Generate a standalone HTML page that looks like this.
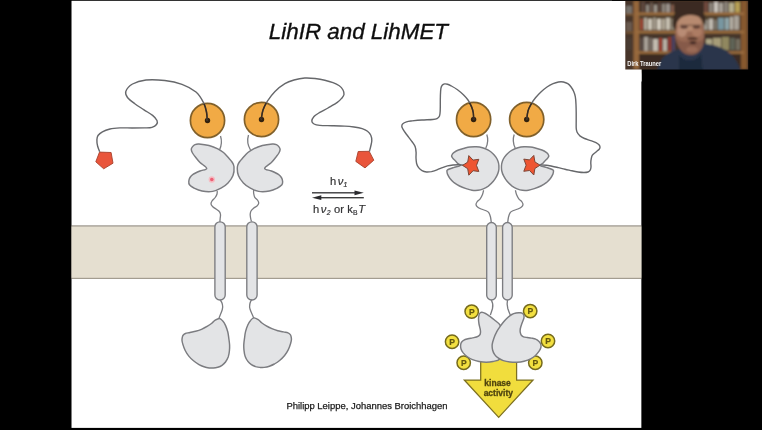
<!DOCTYPE html>
<html lang="en">
<head>
<meta charset="utf-8">
<title>LihIR and LihMET</title>
<style>
html,body{margin:0;padding:0;background:#000;}
body{width:762px;height:430px;overflow:hidden;position:relative;font-family:"Liberation Sans",sans-serif;}
svg{position:absolute;left:0;top:0;}
svg text{font-family:"Liberation Sans",sans-serif;}
</style>
</head>
<body>
<svg width="762" height="430" viewBox="0 0 762 430">
<defs>
<filter id="soft" x="-2%" y="-2%" width="104%" height="104%"><feGaussianBlur stdDeviation="0.55"/></filter>
<filter id="wb" x="-5%" y="-5%" width="110%" height="110%"><feGaussianBlur stdDeviation="1.0"/></filter>
<clipPath id="c1"><circle cx="207.5" cy="120.5" r="17.1"/></clipPath>
<clipPath id="c2"><circle cx="261.5" cy="119.5" r="17.1"/></clipPath>
<clipPath id="c3"><circle cx="473.6" cy="119.5" r="17.1"/></clipPath>
<clipPath id="c4"><circle cx="526.7" cy="119.5" r="17.1"/></clipPath>
<filter id="tb"><feGaussianBlur stdDeviation="0.25"/></filter>
</defs>
<rect x="71.3" y="0.8" width="570.3" height="427.1" fill="#fff"/>
<g filter="url(#soft)">
<rect x="67" y="226" width="579" height="52.5" fill="#e5dfd0"/>
<rect x="67" y="225.3" width="579" height="1.2" fill="#9a948a"/>
<rect x="67" y="277.8" width="579" height="1.2" fill="#a39d90"/>
<polygon points="99.5,152.1 111.1,152.5 113,163.2 103.7,168.8 95.8,161.8" fill="#e9553a" stroke="#a8412d" stroke-width="0.9" stroke-linejoin="round"/>
<polygon points="358.2,151.5 369.2,151.3 373.8,160.2 365,167.9 355.8,161.4" fill="#e9553a" stroke="#a8412d" stroke-width="0.9" stroke-linejoin="round"/>
<path d="M220.5 136C221.8 140 221.8 145 219.5 150" fill="none" stroke="#7b7c80" stroke-width="1.3"/>
<path d="M248.5 135C247 140 247.5 145 250.5 150" fill="none" stroke="#7b7c80" stroke-width="1.3"/>
<path d="M192.2 147.1C192.8 146.3 193.9 145.1 195.0 144.6C196.1 144.1 196.7 143.8 199.0 144.0C201.3 144.2 205.9 144.7 209.0 145.5C212.1 146.3 215.4 147.6 217.8 148.8C220.2 150.0 221.8 151.1 223.5 152.5C225.2 153.9 226.6 155.7 228.0 157.3C229.4 158.9 231.0 160.4 232.0 162.0C233.0 163.6 233.8 164.4 234.0 166.7C234.2 168.9 234.0 172.8 233.0 175.5C232.0 178.2 230.0 180.8 228.0 182.9C226.0 185.0 223.6 186.8 221.0 188.2C218.4 189.6 215.9 190.9 212.7 191.4C209.5 191.9 205.1 191.6 202.0 191.0C198.9 190.4 196.0 189.0 193.9 188.0C191.8 187.0 190.3 185.9 189.5 184.8C188.7 183.7 188.7 182.4 188.8 181.2C188.9 180.0 189.3 178.6 190.0 177.5C190.7 176.4 191.3 175.5 193.0 174.4C194.7 173.3 197.7 172.0 200.0 171.0C202.3 170.0 206.7 169.8 206.7 168.4C206.7 167.0 201.8 164.3 200.0 162.5C198.2 160.7 196.8 158.9 195.6 157.3C194.3 155.7 193.2 154.3 192.5 153.0C191.8 151.7 191.4 150.6 191.3 149.6C191.2 148.6 191.6 147.9 192.2 147.1Z" fill="#e3e4e6" stroke="#7b7c80" stroke-width="1.45"/>
<path d="M279.2 147.1C278.6 146.3 277.5 145.1 276.4 144.6C275.3 144.1 274.7 143.8 272.4 144.0C270.1 144.2 265.5 144.7 262.4 145.5C259.3 146.3 256.0 147.6 253.6 148.8C251.2 150.0 249.6 151.1 247.9 152.5C246.2 153.9 244.8 155.7 243.4 157.3C242.0 158.9 240.4 160.4 239.4 162.0C238.4 163.6 237.6 164.4 237.4 166.7C237.2 168.9 237.4 172.8 238.4 175.5C239.4 178.2 241.4 180.8 243.4 182.9C245.4 185.0 247.8 186.8 250.4 188.2C252.9 189.6 255.5 190.9 258.7 191.4C261.9 191.9 266.3 191.6 269.4 191.0C272.5 190.4 275.4 189.0 277.5 188.0C279.6 187.0 281.0 185.9 281.9 184.8C282.8 183.7 282.7 182.4 282.6 181.2C282.5 180.0 282.1 178.6 281.4 177.5C280.7 176.4 280.1 175.5 278.4 174.4C276.7 173.3 273.7 172.0 271.4 171.0C269.1 170.0 264.7 169.8 264.7 168.4C264.7 167.0 269.5 164.3 271.4 162.5C273.2 160.7 274.5 158.9 275.8 157.3C277.0 155.7 278.2 154.3 278.9 153.0C279.6 151.7 280.0 150.6 280.1 149.6C280.1 148.6 279.8 147.9 279.2 147.1Z" fill="#e3e4e6" stroke="#7b7c80" stroke-width="1.45"/>
<circle cx="211.8" cy="179.5" r="3.2" fill="#f5bcc3"/><circle cx="211.8" cy="179.5" r="1.8" fill="#ec5f74"/>
<circle cx="207.5" cy="120.5" r="17.1" fill="#f1aa44" stroke="#80602c" stroke-width="1.7"/>
<circle cx="207.5" cy="120.5" r="2.7" fill="#33200f"/>
<circle cx="261.5" cy="119.5" r="17.1" fill="#f1aa44" stroke="#80602c" stroke-width="1.7"/>
<circle cx="261.5" cy="119.5" r="2.7" fill="#33200f"/>
<path d="M207.2 120.6C207.1 119.2 207.1 115.0 206.5 112.0C205.9 109.0 205.2 105.7 203.4 102.4C201.7 99.1 199.6 95.0 196.0 92.0C192.4 89.0 187.2 86.2 182.0 84.3C176.8 82.4 170.8 81.2 164.8 80.5C158.8 79.8 151.4 79.4 146.0 80.0C140.6 80.6 135.9 82.1 132.5 84.0C129.1 85.9 126.6 89.2 125.8 91.5C125.0 93.8 126.0 95.5 127.5 97.5C129.0 99.5 132.1 101.7 134.8 103.7C137.6 105.8 141.0 107.8 144.0 109.8C147.0 111.8 150.4 113.6 152.6 115.4C154.8 117.2 156.3 119.0 157.0 120.5C157.7 122.0 157.3 123.4 156.5 124.5C155.7 125.6 153.9 126.7 152.0 127.3C150.1 127.9 148.1 127.8 144.8 127.9C141.5 128.0 136.2 128.0 132.0 128.0C127.8 128.0 123.6 127.7 119.9 127.9C116.2 128.1 112.9 128.3 110.0 129.0C107.1 129.7 104.4 130.7 102.4 131.8C100.4 132.9 98.9 134.2 98.0 135.5C97.1 136.8 97.0 138.1 96.9 139.8C96.8 141.6 97.1 144.0 97.6 146.0C98.1 148.0 99.3 150.8 99.7 151.8" fill="none" stroke="#66676b" stroke-width="1.4"/>
<path d="M207.2 120.6C207.1 119.2 207.1 115.0 206.5 112.0C205.9 109.0 205.2 105.7 203.4 102.4C201.7 99.1 197.2 93.7 196.0 92.0" fill="none" stroke="#3a2a1c" stroke-width="1.5" clip-path="url(#c1)"/>
<path d="M261.2 119.4C261.5 117.8 262.0 113.0 263.0 110.0C264.0 107.0 265.4 104.3 267.4 101.2C269.4 98.1 272.1 94.4 275.0 91.5C277.9 88.6 281.7 85.6 284.9 83.7C288.1 81.8 290.7 81.0 294.0 80.0C297.3 79.0 301.3 78.2 304.8 78.0C308.3 77.8 311.7 78.1 315.0 78.5C318.3 78.9 321.8 79.5 324.8 80.2C327.8 80.9 330.6 81.7 333.0 82.6C335.4 83.5 337.6 84.6 339.3 85.8C341.0 87.0 342.2 88.5 343.0 90.0C343.8 91.5 344.2 93.1 344.0 94.5C343.8 95.9 342.6 97.2 341.5 98.5C340.4 99.8 339.6 100.8 337.3 102.4C335.1 104.0 330.9 106.3 328.0 108.0C325.1 109.7 322.1 111.0 319.8 112.4C317.5 113.8 315.3 115.0 314.0 116.5C312.7 118.0 311.8 119.8 311.8 121.1C311.8 122.3 312.7 123.3 314.0 124.0C315.3 124.7 316.8 125.1 319.8 125.4C322.8 125.7 327.9 125.6 332.0 125.7C336.1 125.8 341.0 125.9 344.7 126.1C348.4 126.3 351.1 126.6 354.0 127.0C356.9 127.4 359.9 127.9 362.2 128.6C364.4 129.3 366.1 130.1 367.5 131.2C368.9 132.3 370.1 133.8 370.8 135.3C371.5 136.9 371.8 138.7 371.8 140.5C371.8 142.3 371.2 144.2 370.8 146.0C370.4 147.8 369.6 150.6 369.4 151.5" fill="none" stroke="#66676b" stroke-width="1.4"/>
<path d="M261.2 119.4C261.5 117.8 262.0 113.0 263.0 110.0C264.0 107.0 265.4 104.3 267.4 101.2C269.4 98.1 273.7 93.1 275.0 91.5" fill="none" stroke="#3a2a1c" stroke-width="1.5" clip-path="url(#c2)"/>
<path d="M217.3 191.0C217.2 191.5 217.3 192.9 217.0 194.0C216.7 195.1 216.0 196.3 215.2 197.5C214.4 198.7 212.7 199.9 212.0 201.0C211.3 202.1 210.9 203.0 211.0 204.0C211.1 205.0 212.0 206.0 212.8 206.8C213.6 207.6 214.9 208.2 216.0 209.0C217.1 209.8 218.6 210.6 219.3 211.5C220.1 212.4 220.3 213.4 220.5 214.5C220.7 215.6 220.3 216.8 220.2 218.0C220.1 219.2 219.9 221.3 219.9 222.0" fill="none" stroke="#7b7c80" stroke-width="1.3"/>
<path d="M253.6 189.8C253.6 190.4 253.5 192.2 253.7 193.5C253.9 194.8 254.1 196.1 254.8 197.3C255.5 198.5 257.2 199.5 257.8 200.5C258.4 201.5 258.8 202.4 258.7 203.3C258.6 204.2 257.9 205.2 257.0 206.0C256.1 206.8 254.6 207.4 253.6 208.2C252.6 209.0 251.6 210.0 251.0 211.0C250.4 212.0 250.3 212.9 250.2 214.1C250.1 215.3 250.4 216.8 250.6 218.0C250.8 219.2 251.3 220.9 251.5 221.5" fill="none" stroke="#7b7c80" stroke-width="1.3"/>
<rect x="214.9" y="221.8" width="10.3" height="78.2" rx="5" ry="5" fill="#e3e4e6" stroke="#7b7c80" stroke-width="1.35"/>
<rect x="246.8" y="221.8" width="10.3" height="78.2" rx="5" ry="5" fill="#e3e4e6" stroke="#7b7c80" stroke-width="1.35"/>
<path d="M220.3 300C222.5 303 223.3 306 222.3 309.5C221.3 313 219.5 316 218.8 319" fill="none" stroke="#7b7c80" stroke-width="1.3"/>
<path d="M251.6 299.6C249.8 302.5 249 305.5 250 309C251 312.5 253 315.5 253.8 318.5" fill="none" stroke="#7b7c80" stroke-width="1.3"/>
<path d="M219.5 318.5C220.8 318.6 221.8 319.9 222.8 321.0C223.8 322.1 224.7 323.6 225.5 325.4C226.3 327.2 227.2 329.7 227.8 332.0C228.4 334.3 228.6 336.8 228.9 339.0C229.2 341.2 229.5 343.0 229.6 345.0C229.7 347.0 229.6 349.0 229.4 351.0C229.2 353.0 228.8 355.2 228.2 357.0C227.5 358.8 226.5 360.6 225.5 362.0C224.5 363.4 223.3 364.4 222.0 365.3C220.7 366.2 219.2 366.8 217.8 367.2C216.4 367.6 214.9 367.9 213.5 368.0C212.1 368.1 210.8 368.2 209.2 368.0C207.6 367.8 205.7 367.4 204.0 366.8C202.3 366.2 200.8 365.6 199.0 364.6C197.2 363.6 195.2 362.2 193.5 360.8C191.8 359.4 190.2 357.8 188.8 356.1C187.4 354.4 186.2 352.5 185.2 350.5C184.2 348.5 183.3 345.8 182.8 344.1C182.3 342.4 182.1 341.6 182.0 340.5C181.9 339.4 182.1 338.2 182.3 337.3C182.5 336.4 182.8 335.6 183.3 335.0C183.8 334.4 184.3 333.9 185.4 333.5C186.5 333.1 188.3 332.9 190.0 332.5C191.7 332.1 193.7 331.8 195.6 331.3C197.5 330.8 199.5 330.2 201.5 329.3C203.5 328.4 205.8 327.2 207.5 326.2C209.2 325.2 210.5 324.3 211.8 323.3C213.1 322.3 213.9 321.0 215.2 320.2C216.5 319.4 218.2 318.4 219.5 318.5Z" fill="#e3e4e6" stroke="#7b7c80" stroke-width="1.45"/>
<path d="M253.9 317.9C252.6 318.0 251.6 319.2 250.6 320.4C249.6 321.5 248.7 323.0 247.9 324.8C247.1 326.6 246.2 329.1 245.6 331.4C245.0 333.7 244.8 336.2 244.5 338.4C244.2 340.6 243.9 342.4 243.8 344.4C243.7 346.4 243.8 348.4 244.0 350.4C244.2 352.4 244.5 354.6 245.2 356.4C245.8 358.2 246.9 360.0 247.9 361.4C248.9 362.8 250.1 363.8 251.4 364.7C252.7 365.6 254.2 366.1 255.6 366.6C257.0 367.0 258.5 367.3 259.9 367.4C261.3 367.5 262.6 367.6 264.2 367.4C265.8 367.2 267.7 366.8 269.4 366.2C271.1 365.6 272.6 365.0 274.4 364.0C276.1 363.0 278.2 361.6 279.9 360.2C281.6 358.8 283.2 357.2 284.6 355.5C286.0 353.8 287.2 351.9 288.2 349.9C289.2 347.9 290.1 345.2 290.6 343.5C291.1 341.8 291.3 341.0 291.4 339.9C291.5 338.8 291.3 337.6 291.1 336.7C290.9 335.8 290.6 335.0 290.1 334.4C289.6 333.8 289.1 333.3 288.0 332.9C286.9 332.5 285.1 332.3 283.4 331.9C281.7 331.5 279.7 331.2 277.8 330.7C275.9 330.2 273.9 329.6 271.9 328.7C269.9 327.8 267.6 326.6 265.9 325.6C264.2 324.6 262.9 323.7 261.6 322.7C260.3 321.7 259.5 320.4 258.2 319.6C256.9 318.8 255.2 317.8 253.9 317.9Z" fill="#e3e4e6" stroke="#7b7c80" stroke-width="1.45"/>
<path d="M486.8 134.5C488.3 139 488 143.5 485.8 148" fill="none" stroke="#7b7c80" stroke-width="1.3"/>
<path d="M514.2 134.5C512.7 139 513 143.5 515.2 148" fill="none" stroke="#7b7c80" stroke-width="1.3"/>
<path d="M451.6 156.2C451.5 155.5 451.9 154.9 452.3 154.3C452.7 153.7 452.8 153.3 453.8 152.6C454.8 151.9 456.7 150.7 458.5 150.0C460.3 149.3 462.5 148.7 464.4 148.2C466.3 147.7 468.0 147.2 470.0 147.0C472.0 146.8 474.2 146.7 476.3 146.8C478.4 146.9 480.5 147.2 482.5 147.8C484.5 148.4 486.6 149.3 488.3 150.2C490.0 151.1 491.2 152.0 492.5 153.2C493.8 154.3 495.0 155.8 495.9 157.1C496.8 158.4 497.5 159.9 498.0 161.3C498.5 162.7 498.8 164.0 498.9 165.6C499.0 167.2 499.0 169.3 498.6 171.0C498.2 172.7 497.7 174.1 496.8 175.8C495.9 177.5 494.7 179.6 493.3 181.3C491.9 183.0 490.0 184.8 488.3 186.1C486.6 187.3 485.0 188.1 483.3 188.8C481.6 189.5 479.9 190.1 478.0 190.3C476.1 190.5 474.0 190.5 472.0 190.2C470.0 189.9 468.2 189.3 466.1 188.6C464.0 187.9 461.5 187.0 459.5 186.0C457.5 185.0 455.7 183.9 454.1 182.7C452.5 181.4 451.1 179.9 450.0 178.5C448.9 177.1 448.0 175.2 447.5 174.1C447.0 173.0 447.0 172.5 447.0 171.8C447.0 171.1 446.4 170.6 447.5 169.9C448.6 169.2 451.4 168.3 453.5 167.6C455.6 166.9 459.6 166.3 460.3 165.6C461.0 164.9 458.3 164.0 457.5 163.2C456.7 162.4 456.1 161.6 455.3 160.8C454.6 160.0 453.6 159.3 453.0 158.5C452.4 157.7 451.7 156.9 451.6 156.2Z" fill="#e3e4e6" stroke="#7b7c80" stroke-width="1.45"/>
<path d="M548.8 156.2C548.9 155.5 548.5 154.9 548.1 154.3C547.7 153.7 547.6 153.3 546.6 152.6C545.6 151.9 543.7 150.7 541.9 150.0C540.1 149.3 537.9 148.7 536.0 148.2C534.1 147.7 532.4 147.2 530.4 147.0C528.4 146.8 526.2 146.7 524.1 146.8C522.0 146.9 519.9 147.2 517.9 147.8C515.9 148.4 513.8 149.3 512.1 150.2C510.4 151.1 509.2 152.0 507.9 153.2C506.6 154.3 505.4 155.8 504.5 157.1C503.6 158.4 502.9 159.9 502.4 161.3C501.9 162.7 501.6 164.0 501.5 165.6C501.4 167.2 501.4 169.3 501.8 171.0C502.1 172.7 502.7 174.1 503.6 175.8C504.5 177.5 505.7 179.6 507.1 181.3C508.5 183.0 510.4 184.8 512.1 186.1C513.8 187.3 515.4 188.1 517.1 188.8C518.8 189.5 520.5 190.1 522.4 190.3C524.3 190.5 526.4 190.5 528.4 190.2C530.4 189.9 532.2 189.3 534.3 188.6C536.4 187.9 538.9 187.0 540.9 186.0C542.9 185.0 544.7 183.9 546.3 182.7C547.9 181.4 549.3 179.9 550.4 178.5C551.5 177.1 552.4 175.2 552.9 174.1C553.4 173.0 553.4 172.5 553.4 171.8C553.4 171.1 554.0 170.6 552.9 169.9C551.8 169.2 549.0 168.3 546.9 167.6C544.8 166.9 540.8 166.3 540.1 165.6C539.4 164.9 542.1 164.0 542.9 163.2C543.7 162.4 544.3 161.6 545.1 160.8C545.8 160.0 546.8 159.3 547.4 158.5C548.0 157.7 548.7 156.9 548.8 156.2Z" fill="#e3e4e6" stroke="#7b7c80" stroke-width="1.45"/>
<circle cx="473.6" cy="119.5" r="17.1" fill="#f1aa44" stroke="#80602c" stroke-width="1.7"/>
<circle cx="473.6" cy="119.5" r="2.7" fill="#33200f"/>
<circle cx="526.7" cy="119.5" r="17.1" fill="#f1aa44" stroke="#80602c" stroke-width="1.7"/>
<circle cx="526.7" cy="119.5" r="2.7" fill="#33200f"/>
<path d="M473.6 119.5C473.6 118.4 473.6 115.1 473.3 113.0C473.0 110.9 472.5 109.1 471.6 106.9C470.7 104.7 469.4 102.0 468.0 100.0C466.6 98.0 465.1 96.5 463.4 94.8C461.6 93.1 459.5 91.3 457.5 89.8C455.5 88.3 453.1 86.9 451.4 86.0C449.7 85.1 448.6 84.5 447.5 84.2C446.4 83.9 445.5 83.7 444.6 83.9C443.7 84.1 442.8 84.6 442.2 85.3C441.6 86.0 441.2 86.6 440.9 88.3C440.6 90.0 440.5 92.9 440.4 95.5C440.3 98.1 440.3 101.5 440.3 104.1C440.3 106.7 440.3 109.0 440.2 111.0C440.1 113.0 440.0 114.8 439.5 116.1C439.0 117.4 438.1 118.0 437.0 118.6C435.9 119.2 435.2 119.3 432.7 119.5C430.2 119.7 425.4 119.8 422.0 120.0C418.6 120.2 414.8 120.6 412.2 120.9C409.6 121.2 408.1 121.3 406.5 121.8C404.9 122.3 403.6 123.0 402.8 123.8C402.0 124.5 401.8 125.4 401.8 126.3C401.8 127.2 402.2 127.8 402.8 128.9C403.4 130.0 404.5 131.6 405.5 133.0C406.5 134.4 407.7 135.8 408.8 137.3C409.9 138.8 411.2 140.4 412.3 142.0C413.4 143.6 414.6 144.9 415.2 146.7C415.8 148.4 416.0 150.6 416.1 152.5C416.2 154.4 415.9 156.2 416.0 158.0C416.1 159.8 416.2 161.9 416.6 163.5C417.0 165.1 417.7 166.4 418.6 167.6C419.5 168.8 420.7 169.9 422.0 170.6C423.3 171.3 424.9 171.8 426.5 172.0C428.1 172.2 429.8 171.9 431.5 171.6C433.2 171.2 435.2 170.6 437.0 169.9C438.8 169.2 440.8 168.3 442.5 167.6C444.2 166.9 445.8 166.3 447.5 165.9C449.2 165.5 451.2 165.2 453.0 165.0C454.8 164.8 456.2 164.8 458.0 164.8C459.8 164.8 463.0 165.1 464.0 165.1" fill="none" stroke="#66676b" stroke-width="1.4"/>
<path d="M473.6 119.5C473.6 118.4 473.6 115.1 473.3 113.0C473.0 110.9 472.5 109.1 471.6 106.9C470.7 104.7 468.6 101.2 468.0 100.0" fill="none" stroke="#3a2a1c" stroke-width="1.5" clip-path="url(#c3)"/>
<path d="M526.7 119.5C526.9 118.1 527.3 113.5 528.0 111.0C528.7 108.5 529.8 106.6 531.0 104.4C532.2 102.2 533.8 99.9 535.5 97.8C537.2 95.7 539.3 93.6 541.2 91.8C543.1 90.0 545.0 88.4 547.0 87.0C549.0 85.6 551.2 84.4 553.1 83.6C555.0 82.8 556.8 82.3 558.5 82.0C560.2 81.7 561.9 81.7 563.4 82.0C564.9 82.3 566.5 82.9 567.8 83.7C569.1 84.5 570.1 85.7 571.1 87.0C572.1 88.3 572.9 89.7 573.6 91.3C574.3 92.9 574.9 94.4 575.3 96.6C575.7 98.8 575.9 101.8 576.0 104.5C576.1 107.2 576.2 110.0 576.2 112.7C576.2 115.5 576.2 118.5 576.2 121.0C576.2 123.5 576.1 126.2 576.2 128.0C576.3 129.8 576.4 130.7 577.0 132.0C577.6 133.3 578.4 134.5 579.6 135.6C580.9 136.7 582.6 137.7 584.5 138.5C586.4 139.3 588.8 140.0 590.7 140.7C592.6 141.4 594.6 141.9 596.0 142.6C597.4 143.3 598.5 144.2 599.2 145.0C599.9 145.8 600.0 146.5 600.0 147.2C600.0 147.9 599.9 148.4 599.2 149.2C598.5 150.0 597.1 151.0 596.0 152.0C594.9 153.0 593.2 154.0 592.4 155.2C591.6 156.4 591.5 157.7 591.2 159.0C590.9 160.3 590.8 161.6 590.8 162.9C590.8 164.2 591.1 165.8 591.0 167.0C590.9 168.2 590.7 169.4 590.2 170.2C589.7 171.0 589.0 171.6 588.0 172.0C587.0 172.4 585.7 172.5 584.0 172.5C582.3 172.5 580.0 172.3 578.0 172.0C576.0 171.7 574.1 171.3 571.9 170.8C569.7 170.3 567.3 169.7 565.0 169.2C562.7 168.7 560.5 168.1 558.3 167.6C556.1 167.1 554.0 166.6 552.0 166.2C550.0 165.8 548.2 165.4 546.3 165.2C544.3 165.0 541.3 164.9 540.3 164.9" fill="none" stroke="#66676b" stroke-width="1.4"/>
<path d="M526.7 119.5C526.9 118.1 527.3 113.5 528.0 111.0C528.7 108.5 529.8 106.6 531.0 104.4C532.2 102.2 534.8 98.9 535.5 97.8" fill="none" stroke="#3a2a1c" stroke-width="1.5" clip-path="url(#c4)"/>
<polygon points="462.6,165.4 467.7,162.1 468.8,155.6 473.1,160.1 478.8,159.3 476.5,165.4 478.8,171.5 473.1,170.7 468.8,175.2 467.7,168.7" fill="#ee5433" stroke="#7d4636" stroke-width="1" stroke-linejoin="round"/>
<polygon points="540.0,165.2 534.9,168.5 533.8,175.0 529.5,170.5 523.8,171.3 526.1,165.2 523.8,159.1 529.5,159.9 533.8,155.4 534.9,161.9" fill="#ee5433" stroke="#7d4636" stroke-width="1" stroke-linejoin="round"/>
<path d="M483.6 190.2C483.4 190.9 483.1 193.1 482.5 194.5C481.9 195.9 481.1 197.6 480.2 198.8C479.3 200.1 477.7 201.0 477.0 202.0C476.3 203.0 475.9 203.9 476.0 204.7C476.1 205.5 476.6 206.3 477.5 207.0C478.4 207.7 479.8 208.4 481.1 209.0C482.4 209.6 484.2 209.9 485.5 210.5C486.8 211.1 488.0 211.5 488.8 212.6C489.6 213.7 490.1 215.3 490.5 217.0C490.9 218.7 491.2 221.8 491.3 222.7" fill="none" stroke="#7b7c80" stroke-width="1.3"/>
<path d="M515.4 190.2C515.6 190.9 515.9 193.1 516.5 194.5C517.1 195.9 517.9 197.6 518.8 198.8C519.7 200.1 521.3 201.0 522.0 202.0C522.7 203.0 523.1 203.9 523.0 204.7C522.9 205.5 522.4 206.3 521.5 207.0C520.6 207.7 519.2 208.4 517.9 209.0C516.6 209.6 514.8 209.9 513.5 210.5C512.2 211.1 511.0 211.5 510.2 212.6C509.4 213.7 508.9 215.3 508.5 217.0C508.1 218.7 507.8 221.8 507.7 222.7" fill="none" stroke="#7b7c80" stroke-width="1.3"/>
<rect x="486.7" y="222.5" width="9.6" height="77.5" rx="4.8" ry="4.8" fill="#e3e4e6" stroke="#7b7c80" stroke-width="1.35"/>
<rect x="502.6" y="222.5" width="9.6" height="77.5" rx="4.8" ry="4.8" fill="#e3e4e6" stroke="#7b7c80" stroke-width="1.35"/>
<path d="M491.3 300C493 303 493.3 305.5 492.5 308.5C491.8 311 491 313 490.3 315" fill="none" stroke="#7b7c80" stroke-width="1.3"/>
<path d="M507.5 300C506.8 303 507 305.5 507.8 308.5C508.6 311 509.5 313.3 510.5 315.6" fill="none" stroke="#7b7c80" stroke-width="1.3"/>
<polygon points="480.7,352 516.6,352 516.6,380 533,380 498.7,417.3 464.3,380 480.7,380" fill="#f1dd3e" stroke="#7d7020" stroke-width="1.25" stroke-linejoin="miter"/>
<circle cx="471.7" cy="311.6" r="6.7" fill="#f3e040" stroke="#756a1c" stroke-width="1.5"/>
<text x="471.8" y="314.70000000000005" font-size="8.6" font-weight="bold" text-anchor="middle" fill="#65580f" stroke="#65580f" stroke-width="0.2">P</text>
<circle cx="530.2" cy="311.1" r="6.7" fill="#f3e040" stroke="#756a1c" stroke-width="1.5"/>
<text x="530.3000000000001" y="314.20000000000005" font-size="8.6" font-weight="bold" text-anchor="middle" fill="#65580f" stroke="#65580f" stroke-width="0.2">P</text>
<circle cx="452.1" cy="341.8" r="6.7" fill="#f3e040" stroke="#756a1c" stroke-width="1.5"/>
<text x="452.20000000000005" y="344.90000000000003" font-size="8.6" font-weight="bold" text-anchor="middle" fill="#65580f" stroke="#65580f" stroke-width="0.2">P</text>
<circle cx="548" cy="341" r="6.7" fill="#f3e040" stroke="#756a1c" stroke-width="1.5"/>
<text x="548.1" y="344.1" font-size="8.6" font-weight="bold" text-anchor="middle" fill="#65580f" stroke="#65580f" stroke-width="0.2">P</text>
<circle cx="463.7" cy="362.8" r="6.7" fill="#f3e040" stroke="#756a1c" stroke-width="1.5"/>
<text x="463.8" y="365.90000000000003" font-size="8.6" font-weight="bold" text-anchor="middle" fill="#65580f" stroke="#65580f" stroke-width="0.2">P</text>
<circle cx="535.3" cy="362.8" r="6.7" fill="#f3e040" stroke="#756a1c" stroke-width="1.5"/>
<text x="535.4" y="365.90000000000003" font-size="8.6" font-weight="bold" text-anchor="middle" fill="#65580f" stroke="#65580f" stroke-width="0.2">P</text>
<path d="M481.9 312.3C482.8 312.4 484.2 312.9 485.5 313.5C486.8 314.1 488.1 315.1 489.6 316.2C491.1 317.3 492.8 318.6 494.5 320.0C496.2 321.4 498.4 322.9 499.8 324.7C501.2 326.5 502.1 328.4 503.0 331.0C503.9 333.6 504.8 336.8 505.0 340.0C505.2 343.2 504.9 346.9 504.0 350.0C503.1 353.1 501.6 357.0 499.8 358.9C498.0 360.8 495.3 360.9 493.0 361.5C490.7 362.1 488.5 362.3 486.2 362.3C483.9 362.3 481.3 361.9 479.0 361.5C476.7 361.1 474.5 360.5 472.5 359.7C470.5 358.9 468.6 357.6 467.0 356.5C465.4 355.4 464.2 354.1 463.2 352.9C462.2 351.6 461.4 350.3 461.0 349.0C460.6 347.7 460.5 346.3 460.6 345.2C460.7 344.1 460.9 343.1 461.5 342.3C462.1 341.5 462.9 340.7 464.0 340.1C465.1 339.5 466.6 339.2 468.0 338.8C469.4 338.4 471.1 338.2 472.5 337.9C473.9 337.6 475.3 337.5 476.5 337.0C477.7 336.5 479.0 335.8 479.7 335.0C480.4 334.2 480.4 333.2 480.5 332.2C480.6 331.2 480.4 330.4 480.2 329.0C479.9 327.6 479.3 325.7 479.0 324.0C478.7 322.3 478.5 320.3 478.5 318.8C478.5 317.3 478.8 316.0 479.0 315.0C479.2 314.0 479.5 313.4 480.0 313.0C480.5 312.6 481.0 312.2 481.9 312.3Z" fill="#e3e4e6" stroke="#7b7c80" stroke-width="1.45"/>
<path d="M520.3 312.8C519.1 312.7 517.4 312.7 516.0 313.0C514.6 313.3 513.2 313.7 511.8 314.5C510.4 315.3 508.9 316.5 507.5 317.8C506.1 319.1 504.6 320.6 503.3 322.2C502.0 323.8 500.6 325.6 499.5 327.3C498.4 329.0 497.3 330.5 496.4 332.4C495.4 334.3 494.5 336.5 493.8 338.5C493.1 340.5 492.4 342.5 492.2 344.4C492.0 346.3 492.2 348.3 492.6 350.0C493.0 351.7 493.7 353.2 494.7 354.6C495.7 356.0 497.1 357.2 498.5 358.2C499.9 359.2 501.4 360.0 503.3 360.6C505.2 361.2 507.7 361.7 510.0 362.0C512.3 362.3 514.6 362.4 516.9 362.3C519.2 362.2 521.7 361.9 524.0 361.3C526.3 360.7 528.7 359.9 530.6 358.9C532.5 357.9 534.1 356.8 535.5 355.5C536.9 354.2 538.2 352.5 539.1 351.2C540.0 349.9 540.5 348.9 540.8 347.8C541.1 346.7 541.1 345.4 540.8 344.4C540.5 343.3 539.9 342.4 539.0 341.5C538.1 340.6 537.0 339.8 535.7 339.2C534.5 338.6 532.9 338.4 531.5 338.1C530.1 337.8 528.5 337.7 527.2 337.5C525.9 337.3 524.5 337.2 523.5 336.8C522.5 336.4 521.8 335.8 521.2 335.0C520.7 334.2 520.4 333.2 520.2 332.2C520.1 331.2 520.0 330.4 520.3 329.0C520.5 327.6 521.1 325.7 521.7 324.0C522.3 322.3 523.3 320.1 523.7 318.8C524.1 317.5 524.1 316.9 524.0 316.0C523.9 315.1 523.5 314.2 522.9 313.7C522.3 313.2 521.4 312.9 520.3 312.8Z" fill="#e3e4e6" stroke="#7b7c80" stroke-width="1.45"/>
<text x="497.6" y="386.2" font-size="8.5" font-weight="bold" text-anchor="middle" fill="#50450e" stroke="#50450e" stroke-width="0.3">kinase</text>
<text x="498.3" y="396.2" font-size="8.5" font-weight="bold" text-anchor="middle" fill="#50450e" stroke="#50450e" stroke-width="0.3">activity</text>
<rect x="312" y="192.1" width="46" height="1.4" fill="#3c3c3e"/>
<polygon points="363.8,192.8 354.5,190.4 354.5,195.2" fill="#2c2c2e"/>
<rect x="318" y="197" width="45.8" height="1.4" fill="#3c3c3e"/>
<polygon points="312,197.7 321.3,195.3 321.3,200.1" fill="#2c2c2e"/>
<text id="t1" x="330" y="184.6" font-size="11.2" fill="#333335" stroke="#333335" stroke-width="0.2">h<tspan font-style="italic" dx="1.4">ν</tspan><tspan font-style="italic" font-size="6.8" dy="2.4" dx="0.3">1</tspan></text>
<text id="t2" x="313" y="212.6" font-size="11.2" letter-spacing="0.12" fill="#333335" stroke="#333335" stroke-width="0.2">h<tspan font-style="italic" dx="1.4">ν</tspan><tspan font-style="italic" font-size="6.8" dy="2.4" dx="0.3">2</tspan><tspan dy="-2.4"> or k</tspan><tspan font-size="6.8" dy="2.4">B</tspan><tspan font-style="italic" dy="-2.4" dx="0.5">T</tspan></text>
<text x="268.8" y="39.4" font-size="22.4" font-style="italic" fill="#111" stroke="#111" stroke-width="0.35">LihIR and LihMET</text>
<text x="286.4" y="408.8" font-size="9.45" fill="#1c1c1c" stroke="#1c1c1c" stroke-width="0.25">Philipp Leippe, Johannes Broichhagen</text>
</g>
<g filter="url(#wb)">
<rect x="622" y="-3" width="130" height="76" fill="#4a3626"/>
<rect x="639" y="1" width="102" height="12" fill="#3b2c24"/>
<rect x="639" y="15" width="102" height="16" fill="#54432f"/>
<rect x="639" y="34" width="102" height="17" fill="#45352a"/>
<rect x="639" y="54" width="102" height="15" fill="#3a2b20"/>
<rect x="625.5" y="1" width="8" height="68" fill="#46362c"/>
<rect x="626" y="6" width="6" height="8" fill="#77726c"/>
<rect x="626" y="22" width="6" height="9" fill="#6a5a50"/>
<rect x="626" y="38" width="6" height="12" fill="#4a3b33"/>
<rect x="641" y="1.7" width="4" height="11" fill="#5b473c"/>
<rect x="646" y="4.7" width="3" height="8" fill="#8f877e"/>
<rect x="650" y="2.7" width="3" height="10" fill="#6b5a50"/>
<rect x="654" y="4.7" width="3" height="8" fill="#9e968d"/>
<rect x="658" y="2.7" width="3" height="10" fill="#5c4a40"/>
<rect x="662" y="3.7" width="3" height="9" fill="#8f867d"/>
<rect x="666" y="3.7" width="4" height="9" fill="#9a928a"/>
<rect x="671" y="4.7" width="3" height="8" fill="#7f5a4a"/>
<rect x="704" y="1.7" width="4" height="11" fill="#70483e"/>
<rect x="709" y="2.7" width="4" height="10" fill="#8c837a"/>
<rect x="714" y="1.7" width="4" height="11" fill="#c9c3bb"/>
<rect x="719" y="2.7" width="4" height="10" fill="#a9a198"/>
<rect x="724" y="1.7" width="4" height="11" fill="#8a8178"/>
<rect x="729" y="2.7" width="5" height="10" fill="#b5ae8c"/>
<rect x="735" y="1.7" width="5" height="11" fill="#b59f55"/>
<rect x="640" y="18.8" width="3" height="11" fill="#9c4a38"/>
<rect x="644" y="17.8" width="3" height="12" fill="#b3aa9c"/>
<rect x="648" y="18.8" width="4" height="11" fill="#cbc4b6"/>
<rect x="653" y="17.8" width="3" height="12" fill="#a59c8e"/>
<rect x="657" y="18.8" width="4" height="11" fill="#d2cbbd"/>
<rect x="662" y="18.8" width="3" height="11" fill="#b3aa9a"/>
<rect x="666" y="17.8" width="4" height="12" fill="#c6bfb0"/>
<rect x="671" y="18.8" width="3" height="11" fill="#9a917f"/>
<rect x="704" y="19.8" width="4" height="10" fill="#9b968d"/>
<rect x="709" y="18.8" width="4" height="11" fill="#bfbab1"/>
<rect x="714" y="19.8" width="3" height="10" fill="#7d786e"/>
<rect x="718" y="17.8" width="6" height="12" fill="#7896a0"/>
<rect x="725" y="17.8" width="4" height="12" fill="#8fa6aa"/>
<rect x="730" y="16.8" width="3" height="13" fill="#b8b2a8"/>
<rect x="734" y="15.8" width="5" height="14" fill="#a9a297"/>
<rect x="640" y="38" width="3" height="13" fill="#5c4e46"/>
<rect x="644" y="37" width="4" height="14" fill="#a8a197"/>
<rect x="649" y="38" width="3" height="13" fill="#7a7068"/>
<rect x="653" y="39" width="5" height="12" fill="#c3bcb0"/>
<rect x="659" y="38" width="3" height="13" fill="#a24236"/>
<rect x="663" y="39" width="4" height="12" fill="#b9b0a4"/>
<rect x="668" y="37" width="3" height="14" fill="#8f3832"/>
<rect x="672" y="36" width="3" height="15" fill="#4e4260"/>
<rect x="706" y="39" width="6" height="11" fill="#ada686"/>
<rect x="713" y="38" width="8" height="12" fill="#a69c78"/>
<rect x="722" y="37" width="7" height="13" fill="#90875f"/>
<rect x="730" y="38" width="5" height="12" fill="#5f6456"/>
<rect x="736" y="39" width="4" height="11" fill="#756e5e"/>
<rect x="633.5" y="1" width="5.5" height="68" fill="#94663a"/>
<rect x="741" y="1" width="6" height="68" fill="#86592f"/>
<rect x="636" y="12.4" width="108" height="2.6" fill="#9a6c3e"/>
<rect x="636" y="30.8" width="108" height="2.6" fill="#9a6c3e"/>
<rect x="636" y="51.2" width="108" height="2.6" fill="#9a6c3e"/>
<rect x="625.5" y="13.5" width="8" height="2" fill="#7c5632"/>
<rect x="625.5" y="31.5" width="8" height="2" fill="#7c5632"/>
<path d="M657 72C659 58 667 52 678 49.5L703 43.5C722 45 736 53 741 72Z" fill="#2a364c"/>
<path d="M679 55C684 62 695 63 701 54L703 72L679 72Z" fill="#1f2a3c"/>
<ellipse cx="689.8" cy="33" rx="14.6" ry="21" fill="#9a6a54"/>
<ellipse cx="689.5" cy="23" rx="12.5" ry="8.5" fill="#b78a70"/>
<ellipse cx="682" cy="31" rx="5" ry="6" fill="#b98c74"/>
<ellipse cx="697" cy="32" rx="5" ry="5" fill="#ad7c64"/>
<ellipse cx="684" cy="27" rx="3.8" ry="1.7" fill="#5e4034"/>
<ellipse cx="696.5" cy="27" rx="3.8" ry="1.7" fill="#5e4034"/>
<rect x="680" y="24.6" width="21" height="1.2" fill="#6a4a3c" opacity="0.8"/>
<path d="M676.5 37C677.5 49 683 55 691 55C699 55 704 48.5 704.5 37C701 43 697 41.5 691 41C685 41.5 680 43 676.5 37Z" fill="#865a48"/>
<ellipse cx="692.5" cy="38.6" rx="5.2" ry="1.5" fill="#553629"/>
<ellipse cx="693" cy="42.6" rx="3.4" ry="1.6" fill="#3f2620"/>
<ellipse cx="692" cy="49.5" rx="6" ry="3" fill="#9a6a56"/>
<path d="M673 28C670.5 13 678 6 689.5 6C701 6 707.5 12.5 705.5 26C703.5 18.5 699.5 14.8 690 15C681.5 15.2 676.5 19.5 675.3 29Z" fill="#3a2a20"/>
</g>
<rect x="641.6" y="69.5" width="121" height="361" fill="#000"/>
<rect x="0" y="0" width="71.3" height="430" fill="#000"/>
<rect x="748.2" y="0" width="14" height="70" fill="#000"/>
<rect x="614" y="69.5" width="27.6" height="12" fill="#fff"/>
<rect x="614" y="1" width="11.3" height="72" fill="#fff"/>
<rect x="612" y="0" width="150" height="0.8" fill="#000"/>
<text x="627.3" y="66.2" font-size="6.3" font-weight="bold" fill="#f4f4f4" textLength="34" lengthAdjust="spacingAndGlyphs" filter="url(#tb)">Dirk Trauner</text>
</svg>
</body>
</html>
